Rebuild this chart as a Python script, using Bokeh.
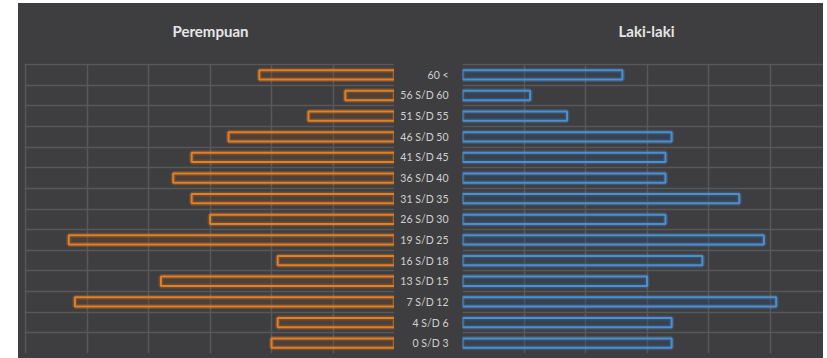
from bokeh.plotting import figure
from bokeh.layouts import row, column
from bokeh.models import Range1d, FixedTicker, ColumnDataSource, Spacer
from bokeh.core.properties import value
from bokeh.embed import file_html
from bokeh.resources import INLINE

# Data (bottom to top)
ages = ["0 S/D 3", "4 S/D 6", "7 S/D 12", "13 S/D 15", "16 S/D 18", "19 S/D 25",
        "26 S/D 30", "31 S/D 35", "36 S/D 40", "41 S/D 45", "46 S/D 50",
        "51 S/D 55", "56 S/D 60", "60 <"]
female = [20, 19, 52, 38, 19, 53, 30, 33, 36, 33, 27, 14, 8, 22]
male = [34, 34, 51, 30, 39, 49, 33, 45, 33, 33, 34, 17, 11, 26]
titles = ["Perempuan", "Laki-laki"]

BG = "#3e3e41"
GRID = "#58585a"
ORANGE = "#e67e22"
BLUE = "#4a90d2"
TXT = "#e6e6e6"

idx = list(range(len(ages)))
src = ColumnDataSource(dict(y=idx, age=ages, female=female, male=male))

H = 295
BOT = 5
yr = Range1d(-0.5, len(ages) - 0.45)
row_ticks = [i - 0.5 for i in range(len(ages) + 1)]


def base(width, height, xr, y_range, border_left=0):
    p = figure(width=width, height=height, x_range=xr, y_range=y_range,
               output_backend="svg", toolbar_location=None,
               x_axis_location=None, y_axis_location=None,
               min_border_left=border_left, min_border_right=0,
               min_border_top=0, min_border_bottom=BOT if height == H else 0)
    p.background_fill_color = BG
    p.border_fill_color = BG
    p.outline_line_color = None
    return p


def style_grid(p):
    p.xgrid.ticker = FixedTicker(ticks=[0, 10, 20, 30, 40, 50, 60])
    p.ygrid.ticker = FixedTicker(ticks=row_ticks)
    p.xgrid.grid_line_color = GRID
    p.ygrid.grid_line_color = GRID
    p.xgrid.grid_line_width = 1.5
    p.ygrid.grid_line_width = 1.5


# Title strip
head = base(805, 60, Range1d(0, 805), Range1d(0, 60))
head.xgrid.visible = False
head.ygrid.visible = False
head.text(x=[192, 628], y=[33, 33], text=titles, text_align="center",
          text_baseline="middle", text_color=TXT, text_font=value("Lato"),
          text_font_size="15px", text_font_style="bold")

# Left panel (female), reversed axis
left = base(376, H, Range1d(60.2, 0), yr, border_left=6)
style_grid(left)
left.hbar(y="y", left=0, right="female", height=0.45, source=src,
          fill_color=None, line_color=ORANGE, line_width=5, line_alpha=0.25)
left.hbar(y="y", left=0, right="female", height=0.45, source=src,
          fill_color="#6a4a2c", fill_alpha=0.3, line_color=ORANGE, line_width=2)

# Middle: age labels
mid = base(68, H, Range1d(0, 68), yr)
mid.xgrid.visible = False
mid.ygrid.visible = False
mid.text(x=54, y="y", text="age", source=src, text_align="right",
         text_baseline="middle", text_color="#d0d0d0",
         text_font=value("Lato"), text_font_size="10.5px")

# Right panel (male)
right = base(361, H, Range1d(0, 60 * 361 / 369), yr)
style_grid(right)
right.hbar(y="y", left=0, right="male", height=0.45, source=src,
           fill_color=None, line_color=BLUE, line_width=5, line_alpha=0.25)
right.hbar(y="y", left=0, right="male", height=0.45, source=src,
           fill_color="#2c4a6a", fill_alpha=0.3, line_color=BLUE, line_width=2)

panels = row(left, mid, right, spacing=0, styles={"background-color": BG})
inner = column(head, panels, spacing=0, styles={"background-color": BG})
layout = column(Spacer(width=10, height=3),
                row(Spacer(width=18, height=H + 60), inner, spacing=0),
                spacing=0)

open("out.html", "w").write(file_html(layout, INLINE))
